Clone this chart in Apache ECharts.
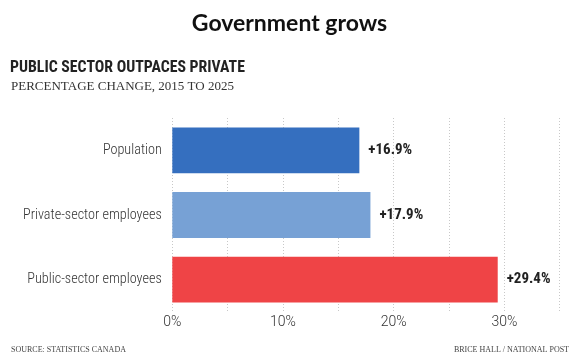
<!DOCTYPE html>
<html><head><meta charset="utf-8">
<script src="https://cdn.jsdelivr.net/npm/echarts@6/dist/echarts.min.js"></script>
<style>html,body{margin:0;padding:0;background:#fff}#c{width:579px;height:363px}</style>
</head><body><div id="c"></div>
<script>
const categories = ['Population', 'Private-sector employees', 'Public-sector employees'];
const values = [16.9, 17.9, 29.4];
const barColors = ['#356fbf', '#77a1d5', '#ef4446'];
const tickLabels = ['0%', '10%', '20%', '30%'];

const chart = echarts.init(document.getElementById('c'), null, {renderer: 'canvas'});
const narrow = '"Liberation Sans Narrow", "Roboto Condensed", Roboto, sans-serif';
const serif = '"Liberation Serif", "DejaVu Serif", serif';
chart.setOption({
  backgroundColor: '#fff',
  animation: false,
  graphic: [
    {type: 'text', left: 'center', top: 12, style: {text: 'Government grows', font: '700 23px Lato, sans-serif', fill: '#111'}},
    {type: 'text', left: 10, top: 60, style: {text: 'PUBLIC SECTOR OUTPACES PRIVATE', font: '700 15.8px ' + narrow, fill: '#222'}},
    {type: 'text', left: 11, top: 80, style: {text: 'PERCENTAGE CHANGE, 2015 TO 2025', font: '400 13px ' + serif, fill: '#333'}},
    {type: 'text', left: 11, top: 346, style: {text: 'SOURCE: STATISTICS CANADA', font: '400 8px ' + serif, fill: '#444'}},
    {type: 'text', right: 10, top: 346, style: {text: 'BRICE HALL / NATIONAL POST', font: '400 8px ' + serif, fill: '#444'}}
  ],
  grid: {left: 172.3, right: 19.3, top: 118, bottom: 51, containLabel: false},
  xAxis: {
    type: 'value', min: 0, max: 35, interval: 5,
    axisLine: {show: false}, axisTick: {show: false},
    splitLine: {show: true, lineStyle: {type: [1, 2], color: '#c8c8c8', width: 1}},
    axisLabel: {
      margin: 3, fontSize: 14, color: '#333', fontFamily: 'Roboto, sans-serif', fontWeight: 300,
      formatter: v => (v % 10 === 0 ? tickLabels[v / 10] : '')
    }
  },
  yAxis: {
    type: 'category', data: categories, inverse: true,
    axisLine: {show: false}, axisTick: {show: false},
    axisLabel: {margin: 10.5, fontSize: 14.2, color: '#333', fontFamily: narrow, fontWeight: 300}
  },
  series: [{
    type: 'bar',
    data: values.map((v, i) => ({value: v, itemStyle: {color: barColors[i]}})),
    barCategoryGap: '29%',
    label: {
      show: true, position: 'right', distance: 9,
      formatter: p => '+' + p.value.toFixed(1) + '%',
      fontSize: 15, fontWeight: 700, color: '#222', fontFamily: narrow
    }
  }]
});
</script></body></html>
